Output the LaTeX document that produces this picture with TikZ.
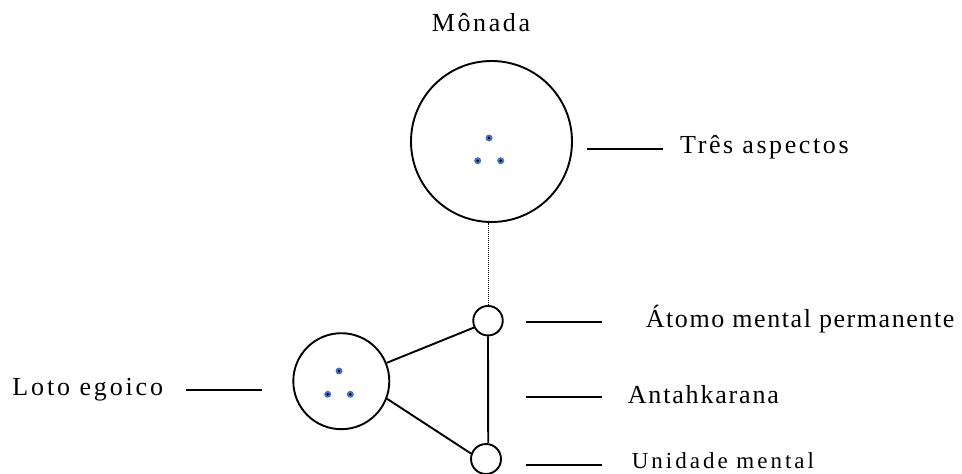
\documentclass[tikz,border=0pt]{standalone}
\usepackage{fontspec}
\setmainfont{Liberation Serif}
\definecolor{seedblue}{RGB}{68,114,196}
\begin{document}
\begin{tikzpicture}[x=1pt,y=-1pt,
  ring/.style={draw=black,line width=1.9pt,circle,inner sep=0pt,minimum size=#1},
  link/.style={line width=1.9pt},
  tick/.style={line width=2pt},
  seed/.style={circle,fill=seedblue,inner sep=0pt,minimum size=7pt,
    path picture={\fill[black] (path picture bounding box.center) circle (1.4pt);}},
  lbl/.style={anchor=base west,inner sep=0pt,font=\fontsize{26}{30}\selectfont},
]
\useasboundingbox (0,0) rectangle (962,474);

% monad with its three aspects
\node[ring=161pt] (mon) at (491.5,141.5) {};
\node[seed] (m1) at (489,138) {};
\node[seed] (m2) at (477.7,160.7) {};
\node[seed] (m3) at (500.7,160.7) {};

% egoic lotus
\node[ring=96pt] (loto) at (341.3,381.2) {};
\node[seed] (l1) at (339,371) {};
\node[seed] (l2) at (327.7,394.3) {};
\node[seed] (l3) at (350.3,394.3) {};

% permanent atom and mental unit
\node[ring=29.5pt] (atomo) at (488,320.7) {};
\node[ring=30pt] (umental) at (486,459) {};

% connections
\draw[line width=1pt,dash pattern=on 1pt off 1pt] (atomo.north) -- (atomo.north |- mon.south);
\draw[link] (atomo.south) -- (umental.82);
\draw[link] (loto.22) -- (atomo.206);
\draw[link] (loto.-21) -- (umental.160);

% labels
\node[lbl] (tmon) at (431.7,31) {\addfontfeature{LetterSpace=10}Mônada};

\coordinate (a1) at (587,149); \coordinate (a2) at (663,149);
\draw[tick] (a1) -- (a2);
\node[lbl] (ttres) at (680,153) {\addfontfeature{LetterSpace=10}Três aspectos};

\coordinate (b1) at (525.7,322.3); \coordinate (b2) at (601.7,322.3);
\draw[tick] (b1) -- (b2);
\node[lbl] (tatomo) at (645.7,327.5) {\addfontfeature{LetterSpace=6}Átomo mental permanente};

\coordinate (c1) at (525.7,397.3); \coordinate (c2) at (601.7,397.3);
\draw[tick] (c1) -- (c2);
\node[lbl] (tantah) at (627.7,403.5) {\addfontfeature{LetterSpace=7}Antahkarana};

\coordinate (d1) at (525.7,465); \coordinate (d2) at (601.7,465);
\draw[tick] (d1) -- (d2);
\node[lbl,font=\fontsize{23}{27}\selectfont] (tunid) at (631.7,468) {\addfontfeature{LetterSpace=13}Unidade mental};

\coordinate (e1) at (185.7,390); \coordinate (e2) at (261.7,390);
\draw[tick] (e1) -- (e2);
\node[lbl] (tloto) at (12.3,395) {\addfontfeature{LetterSpace=11}Loto egoico};
\end{tikzpicture}
\end{document}
